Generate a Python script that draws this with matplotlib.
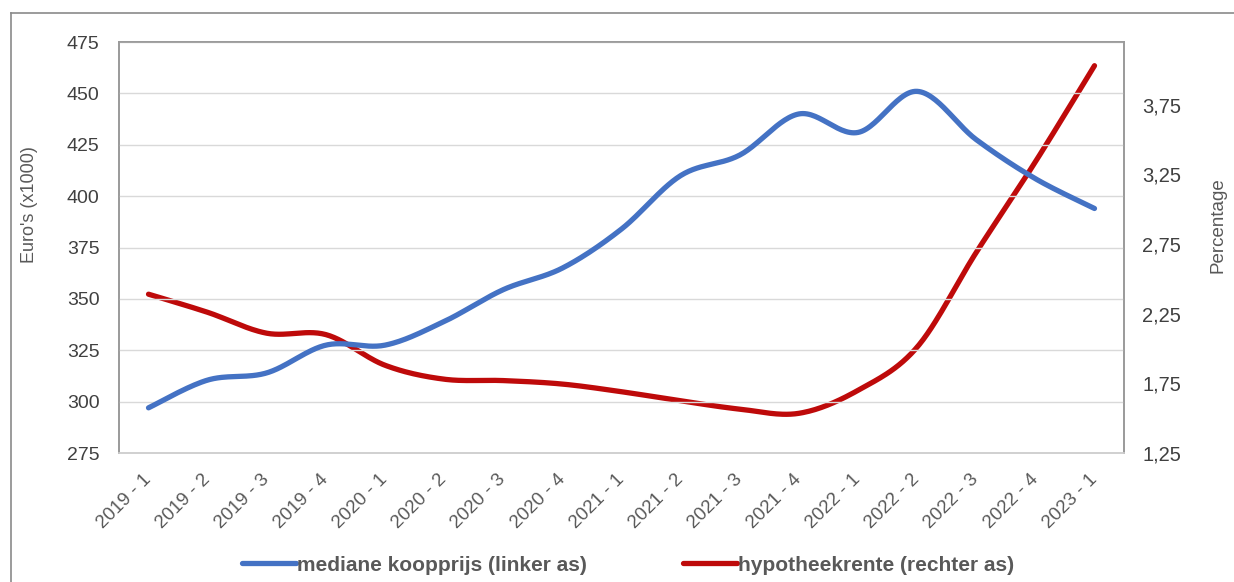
import numpy as np
import matplotlib.pyplot as plt
from matplotlib.lines import Line2D

plt.rcParams['font.family'] = ['Liberation Sans', 'DejaVu Sans']

# kwartalen
kwartalen = ['2019 - 1', '2019 - 2', '2019 - 3', '2019 - 4',
             '2020 - 1', '2020 - 2', '2020 - 3', '2020 - 4',
             '2021 - 1', '2021 - 2', '2021 - 3', '2021 - 4',
             '2022 - 1', '2022 - 2', '2022 - 3', '2022 - 4',
             '2023 - 1']

# mediane koopprijs in duizenden euro's
koopprijs = [297, 310.5, 314, 327.5, 327.5, 339, 354.5, 365, 384,
             410, 420, 440, 431, 451, 427.5, 408.5, 394]

# hypotheekrente in procenten
rente = [2.39, 2.26, 2.11, 2.10, 1.88, 1.78, 1.77, 1.745, 1.69,
         1.625, 1.565, 1.535, 1.70, 2.01, 2.69, 3.34, 4.03]

links_ticks = [275, 300, 325, 350, 375, 400, 425, 450, 475]
rechts_ticks = [1.25, 1.75, 2.25, 2.75, 3.25, 3.75]

BLAUW = '#4472C4'
ROOD = '#BE0A0A'
GRIJS = '#595959'


def glad(y, n=30):
    # vloeiende lijn zoals in Excel (Catmull-Rom als Bezier)
    y = np.asarray(y, dtype=float)
    x = np.arange(len(y), dtype=float)
    p = np.column_stack([x, y])
    p = np.vstack([p[0], p, p[-1]])
    t = np.linspace(0, 1, n)[:, None]
    uit = []
    for i in range(1, len(p) - 2):
        p0, p3 = p[i], p[i + 1]
        p1 = p0 + (p[i + 1] - p[i - 1]) / 6
        p2 = p3 - (p[i + 2] - p[i]) / 6
        seg = ((1 - t) ** 3 * p0 + 3 * (1 - t) ** 2 * t * p1
               + 3 * (1 - t) * t ** 2 * p2 + t ** 3 * p3)
        uit.append(seg if i == 1 else seg[1:])
    uit = np.vstack(uit)
    return uit[:, 0], uit[:, 1]


fig = plt.figure(figsize=(12.34, 5.82), dpi=100)
ax = fig.add_axes([0.0964, 0.2216, 0.8145, 0.7062])
ax2 = ax.twinx()

ax.set_zorder(ax2.get_zorder() + 1)
ax.patch.set_visible(False)

xb, yb = glad(koopprijs)
xr, yr = glad(rente)
lijn_b, = ax.plot(xb, yb, color=BLAUW, lw=3.8, solid_capstyle='round',
                  label='mediane koopprijs (linker as)')
lijn_r, = ax2.plot(xr, yr, color=ROOD, lw=3.8, solid_capstyle='round',
                   label='hypotheekrente (rechter as)')

ax.set_xlim(-0.5, len(kwartalen) - 0.5)
ax.set_ylim(275, 475)
ax2.set_ylim(1.25, 4.2)

ax.set_xticks(range(len(kwartalen)))
ax.set_xticklabels(kwartalen, rotation=45, ha='right', va='center',
                   rotation_mode='anchor')
ax.set_yticks(links_ticks)
ax2.set_yticks(rechts_ticks)
ax2.set_yticklabels([f'{v:.2f}'.replace('.', ',') for v in rechts_ticks])

ax.tick_params(axis='x', length=0, pad=17, labelsize=13.5, labelcolor=GRIJS)
ax.tick_params(axis='y', length=0, pad=14, labelsize=14, labelcolor='#404040')
ax2.tick_params(axis='y', length=0, pad=13, labelsize=14.5, labelcolor='#404040')

ax.yaxis.grid(True, color='#d9d9d9', lw=1)
ax.set_axisbelow(True)

for a in (ax, ax2):
    for s in a.spines.values():
        s.set_color('#9a9a9a')
        s.set_linewidth(1.2)
    a.spines['bottom'].set_color('#d0d0d0')

# astitels
fig.text(30 / 1234, 0.649, "Euro's (x1000)", rotation=90, fontsize=13,
         color=GRIJS, ha='center', va='center')
fig.text(1218 / 1234, 0.613, 'Percentage', rotation=90, fontsize=13.5,
         color=GRIJS, ha='center', va='center')

fig.legend(handles=[lijn_b, lijn_r], loc='center', ncol=2,
           bbox_to_anchor=(0.509, 0.029), frameon=False,
           prop={'size': 15, 'weight': 'bold'}, labelcolor=GRIJS,
           handlelength=2.6, handletextpad=0.05, columnspacing=4.6)

# rand om de figuur (links en boven)
fig.add_artist(Line2D([11 / 1234, 11 / 1234], [0, 1 - 13 / 582],
                      transform=fig.transFigure, color='#8a8a8a', lw=1.2))
fig.add_artist(Line2D([11 / 1234, 1], [1 - 13 / 582, 1 - 13 / 582],
                      transform=fig.transFigure, color='#8a8a8a', lw=1.2))

fig.savefig('out.png', dpi=100)
